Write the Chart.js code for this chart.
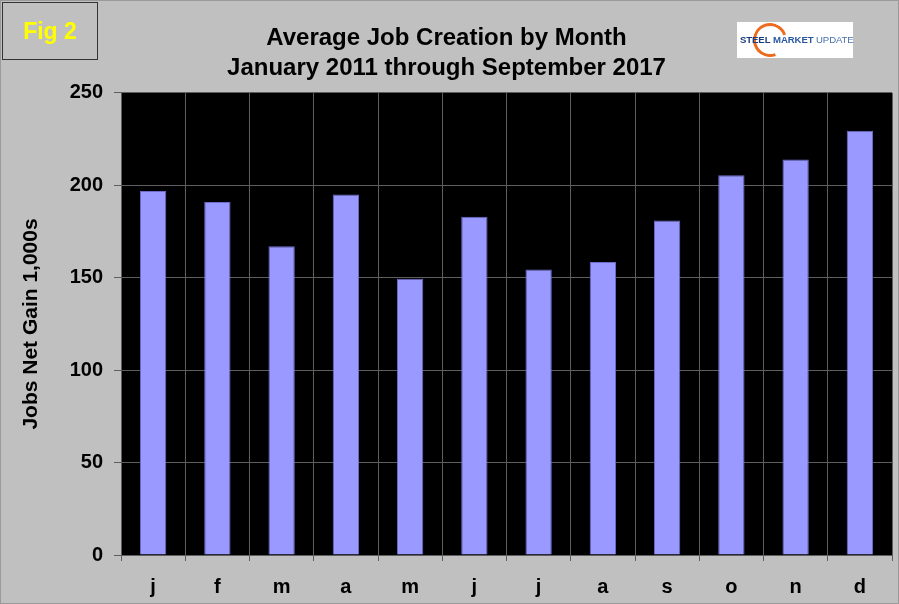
<!DOCTYPE html>
<html>
<head>
<meta charset="utf-8">
<script src="https://cdn.jsdelivr.net/npm/chart.js@4.4.0/dist/chart.umd.min.js"></script>
<style>
  body { margin: 0; background: #c0c0c0; }
  .frame { position: relative; width: 899px; height: 604px; background: #c0c0c0; box-sizing: border-box; border: 1px solid #9a9a9a; overflow: hidden; }
  .fig { position: absolute; left: 1px; top: 1px; width: 96px; height: 58px; border: 1.5px solid #333; box-sizing: border-box;
         font: bold 23px 'Liberation Sans', Arial, sans-serif; color: #ffff00; text-align: center; line-height: 56px; }
  .logo { position: absolute; left: 736px; top: 21px; width: 116px; height: 36px; background: #fff; font-family: 'Liberation Sans', Arial, sans-serif; }
  .logo .arc { position: absolute; left: 16px; top: 1px; width: 34px; height: 34px; border-radius: 50%;
               border: 3px solid #ee6a1c; border-right-color: transparent; box-sizing: border-box; transform: rotate(25deg); }
  .logo .txt { position: absolute; left: 3px; top: 12px; font-size: 9.6px; white-space: nowrap; letter-spacing: -0.1px; }
  .logo .s { font-weight: bold; color: #1b3f7e; }
  .logo .m { font-weight: bold; color: #2a58a0; }
  .logo .u { color: #4a70b0; }
  #chartWrap { position: absolute; left: 0; top: 0; width: 899px; height: 604px; }
</style>
</head>
<body>
<div class="frame">
  <div id="chartWrap"><canvas id="jobsChart"></canvas></div>
  <div class="fig">Fig 2</div>
  <div class="logo"><div class="arc"></div><div class="txt"><span class="s">STEEL</span> <span class="m">MARKET</span> <span class="u">UPDATE</span></div></div>
</div>
<script>
// --- data ---
const months = ['j', 'f', 'm', 'a', 'm', 'j', 'j', 'a', 's', 'o', 'n', 'd'];
const avgJobs = [197, 191, 167, 195, 149.5, 183, 154.5, 158.5, 181, 205.5, 214, 229.5];
const yTicks = [0, 50, 100, 150, 200, 250];

const labelFont = { family: "'Liberation Sans', Arial, sans-serif", size: 20, weight: 'bold' };

// paints the plot area black before the grid goes on
const plotBackground = {
    id: 'plotBackground',
    beforeDraw(chart) {
        const { ctx, chartArea } = chart;
        ctx.save();
        ctx.fillStyle = '#000000';
        ctx.fillRect(chartArea.left, chartArea.top, chartArea.right - chartArea.left, chartArea.bottom - chartArea.top);
        ctx.restore();
    }
};

document.addEventListener('DOMContentLoaded', function () {
    const ctx = document.getElementById('jobsChart').getContext('2d');

    new Chart(ctx, {
        type: 'bar',
        data: {
            labels: months,
            datasets: [{
                label: 'Average job creation',
                data: avgJobs,
                backgroundColor: '#9999ff',
                borderColor: '#6c6cc8',
                borderWidth: 1,
                categoryPercentage: 1,
                barPercentage: 0.41
            }]
        },
        options: {
            responsive: true,
            maintainAspectRatio: false,
            animation: false,
            layout: { padding: { left: 0, right: 8, top: 0, bottom: 0 } },
            scales: {
                x: {
                    grid: { color: '#5e5e5e', lineWidth: 1, tickLength: 6, offset: true },
                    border: { color: '#5e5e5e' },
                    ticks: { font: labelFont, color: '#000', padding: 14 },
                    afterFit: function (scale) { scale.height = 50; }
                },
                y: {
                    min: 0,
                    max: 250,
                    afterBuildTicks: function (scale) { scale.ticks = yTicks.map(v => ({ value: v })); },
                    grid: { color: '#5e5e5e', lineWidth: 1, tickLength: 7 },
                    border: { color: '#5e5e5e' },
                    ticks: { font: labelFont, color: '#000', padding: 11 },
                    title: {
                        display: true,
                        text: 'Jobs Net Gain 1,000s',
                        font: { family: "'Liberation Sans', Arial, sans-serif", size: 21, weight: 'bold' },
                        color: '#000',
                        padding: { top: 18, bottom: 0 }
                    },
                    afterFit: function (scale) { scale.width = 120; }
                }
            },
            plugins: {
                legend: { display: false },
                tooltip: { enabled: false },
                title: {
                    display: true,
                    text: ['Average Job Creation by Month', 'January 2011 through September 2017'],
                    font: { family: "'Liberation Sans', Arial, sans-serif", size: 24, weight: 'bold', lineHeight: 1.27 },
                    color: '#000',
                    padding: { top: 22, bottom: 9 }
                }
            }
        },
        plugins: [plotBackground]
    });
});
</script>
</body>
</html>
